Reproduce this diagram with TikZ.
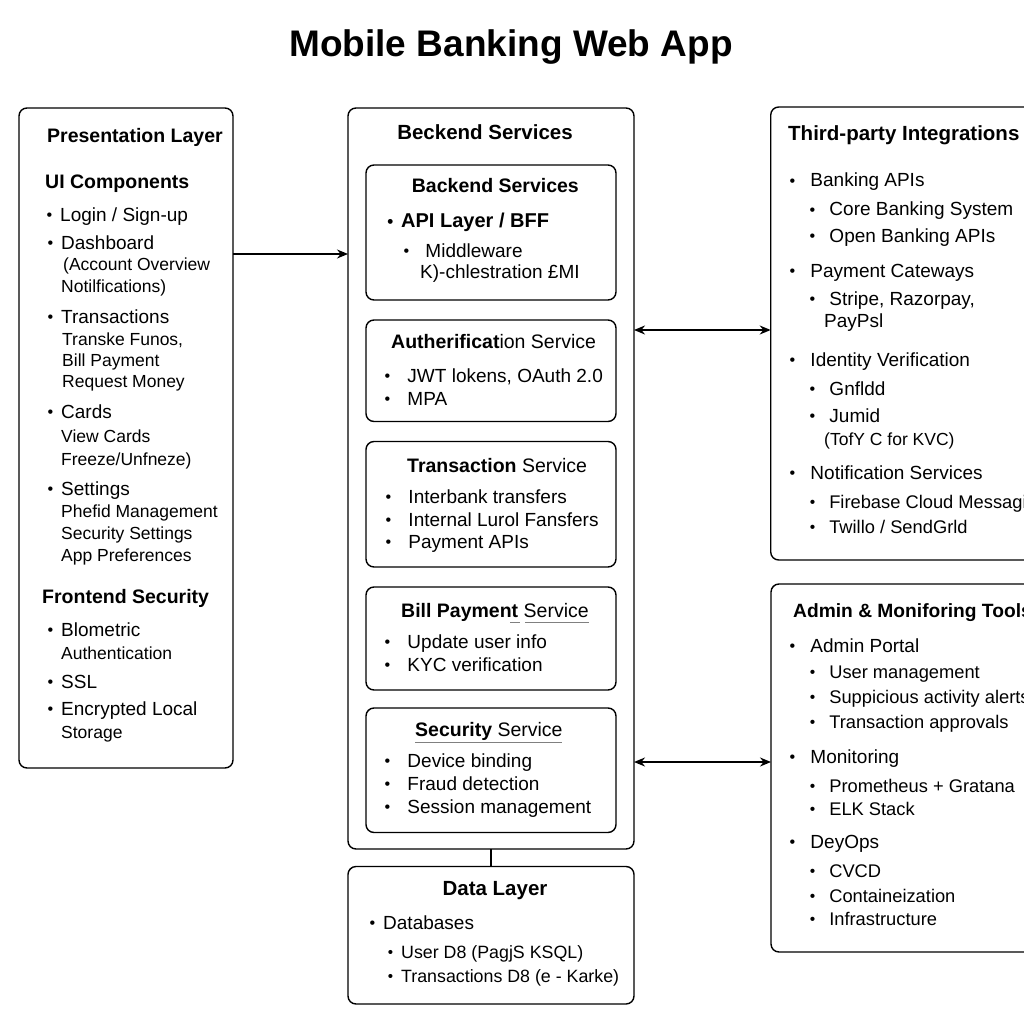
\documentclass[tikz,border=0pt]{standalone}
\usepackage{fontspec}
\usepackage{graphicx}
\setmainfont{Liberation Sans}
\usetikzlibrary{arrows.meta}

\newcommand\bul[1][8pt]{\llap{\raisebox{1pt}{\scalebox{0.85}{\textbullet}}\hspace{#1}}}

\tikzset{
  box/.style={draw, line width=1.4pt, rounded corners=8pt, inner sep=0pt, outer sep=0pt},
  head/.style={anchor=base west, inner sep=0pt, font=\fontsize{19.5}{23}\selectfont\bfseries},
  bighead/.style={inner sep=0pt, font=\fontsize{20.5}{24}\selectfont\bfseries},
  mixhead/.style={anchor=base west, inner sep=0pt, font=\fontsize{19.5}{23}\selectfont},
  txt/.style={anchor=base west, inner sep=0pt, font=\fontsize{19}{23}\selectfont},
  sub/.style={anchor=base west, inner sep=0pt, font=\fontsize{17.5}{21}\selectfont},
  adm/.style={anchor=base west, inner sep=0pt, font=\fontsize{18.3}{22}\selectfont},
  link/.style={line width=1.6pt, -{Stealth[length=11pt,width=9pt]}},
  link2/.style={line width=1.6pt, {Stealth[length=11pt,width=9pt]}-{Stealth[length=11pt,width=9pt]}},
  uline/.style={gray, line width=0.8pt},
}

\begin{document}
\begin{tikzpicture}[x=1pt,y=-1pt]
\useasboundingbox (0,0) rectangle (1024,1024);
\fill[white] (0,0) rectangle (1024,1024);

\node[anchor=base, inner sep=0pt, font=\fontsize{37}{44}\selectfont\bfseries] (title) at (511,57) {Mobile Banking Web App};

% boxes
\node[box, minimum width=214pt, minimum height=660pt] (pres) at (126,438) {};
\node[box, minimum width=286pt, minimum height=741pt] (back) at (491,478.5) {};
\node[box, minimum width=250pt, minimum height=135pt] (bff) at (491,232.5) {};
\node[box, minimum width=250pt, minimum height=101.5pt] (auth) at (491,370.75) {};
\node[box, minimum width=250pt, minimum height=125.5pt] (trans) at (491,504.25) {};
\node[box, minimum width=250pt, minimum height=103pt] (bill) at (491,638.5) {};
\node[box, minimum width=250pt, minimum height=124.5pt] (sec) at (491,770.25) {};
\node[box, minimum width=286pt, minimum height=137.5pt] (data) at (491,935.25) {};
\node[box, minimum width=270pt, minimum height=453pt] (third) at (905.7,333.5) {};
\node[box, minimum width=270pt, minimum height=368pt] (adm) at (906,768) {};

% presentation layer
\node[head] (pl-h) at (47,143) {Presentation Layer};
\node[head] (pl-ui) at (45,189) {UI Components};
\node[txt] (pl-1) at (60,222) {\bul Login / Sign-up};
\node[txt] (pl-2) at (61,249) {\bul Dashboard};
\node[sub] (pl-2a) at (63,270) {(Account Overview};
\node[sub] (pl-2b) at (61,292) {Notilfications)};
\node[txt] (pl-3) at (61,323) {\bul Transactions};
\node[sub] (pl-3a) at (62,345) {Transke Funos,};
\node[sub] (pl-3b) at (62,366) {Bill Payment};
\node[sub] (pl-3c) at (62,387) {Request Money};
\node[txt] (pl-4) at (61,418) {\bul Cards};
\node[sub] (pl-4a) at (61,442) {View Cards};
\node[sub] (pl-4b) at (61,465) {Freeze/Unfneze)};
\node[txt] (pl-5) at (61,495) {\bul Settings};
\node[sub] (pl-5a) at (61,517) {Phefid Management};
\node[sub] (pl-5b) at (61,539) {Security Settings};
\node[sub] (pl-5c) at (61,561) {App Preferences};
\node[head] (pl-fs) at (42,603) {Frontend Security};
\node[txt] (pl-6) at (61,636) {\bul Blometric};
\node[sub] (pl-6a) at (61,659) {Authentication};
\node[txt] (pl-7) at (61,688) {\bul SSL};
\node[txt] (pl-8) at (61,715) {\bul Encrypted Local};
\node[sub] (pl-8a) at (61,738) {Storage};

% backend services
\node[bighead, anchor=base] (bs-h) at (485,140) {Beckend Services};
\node[head] (bff-h) at (411.7,193) {Backend Services};
\node[txt, font=\fontsize{20}{24}\selectfont\bfseries] (bff-1) at (401,228) {\bul API Layer / BFF};
\node[txt] (bff-2) at (420,257) {\bul[11pt] Middleware};
\node[txt] (bff-3) at (420,278) {K)-chlestration £MI};
\node[mixhead] (auth-h) at (391,348) {\textbf{Autherificat}ion Service};
\node[txt] (auth-1) at (402,382) {\bul[12pt] JWT lokens, OAuth 2.0};
\node[txt] (auth-2) at (402,405) {\bul[12pt] MPA};
\node[mixhead] (trans-h) at (407,472) {\textbf{Transaction} Service};
\node[txt] (trans-1) at (403,503) {\bul[12pt] Interbank transfers};
\node[txt] (trans-2) at (403,526) {\bul[12pt] Internal Lurol Fansfers};
\node[txt] (trans-3) at (403,548) {\bul[12pt] Payment APIs};
\node[mixhead] (bill-h) at (401,617) {\textbf{Bill Payment} Service};
\draw[uline] (510,622) -- (520,622);
\draw[uline] (525,622) -- (589,622);
\node[txt] (bill-1) at (402,648) {\bul[12pt] Update user info};
\node[txt] (bill-2) at (402,671) {\bul[12pt] KYC verification};
\node[mixhead] (sec-h) at (415,736) {\textbf{Security} Service};
\draw[uline] (415,742) -- (562,742);
\node[txt] (sec-1) at (402,767) {\bul[12pt] Device binding};
\node[txt] (sec-2) at (402,790) {\bul[12pt] Fraud detection};
\node[txt] (sec-3) at (402,813) {\bul[12pt] Session management};

% data layer
\node[bighead, anchor=base] (dl-h) at (495,895) {Data Layer};
\node[txt] (dl-1) at (383,929) {\bul Databases};
\node[txt, font=\fontsize{17.8}{21}\selectfont] (dl-2) at (401,958) {\bul User D8 (PagjS KSQL)};
\node[txt, font=\fontsize{17.8}{21}\selectfont] (dl-3) at (401,982) {\bul Transactions D8 (e - Karke)};

% third-party integrations
\node[bighead, anchor=base west] (tp-h) at (788,141) {Third-party Integrations};
\node[txt] (tp-1) at (805,187) {\bul[10pt] Banking APIs};
\node[txt] (tp-1a) at (824,216) {\bul[9pt] Core Banking System};
\node[txt] (tp-1b) at (824,242) {\bul[9pt] Open Banking APIs};
\node[txt] (tp-2) at (805,277) {\bul[10pt] Payment Cateways};
\node[txt] (tp-2a) at (824,305) {\bul[9pt] Stripe, Razorpay,};
\node[txt] (tp-2b) at (824,327) {PayPsl};
\node[txt] (tp-3) at (805,366) {\bul[10pt] Identity Verification};
\node[txt] (tp-3a) at (824,395) {\bul[9pt] Gnfldd};
\node[txt] (tp-3b) at (824,422) {\bul[9pt] Jumid};
\node[sub] (tp-3c) at (824,445) {(TofY C for KVC)};
\node[txt] (tp-4) at (805,479) {\bul[10pt] Notification Services};
\node[adm] (tp-4a) at (824,508) {\bul[9pt] Firebase Cloud Messagi};
\node[adm] (tp-4b) at (824,533) {\bul[9pt] Twillo / SendGrld};

% admin & monitoring
\node[bighead, anchor=base west, font=\fontsize{19.2}{23}\selectfont\bfseries] (am-h) at (793,617) {Admin \& Moniforing Tools};
\node[txt] (am-1) at (805,652) {\bul[10pt] Admin Portal};
\node[adm] (am-1a) at (824,678) {\bul[9pt] User management};
\node[adm] (am-1b) at (824,703) {\bul[9pt] Suppicious activity alerts};
\node[adm] (am-1c) at (824,728) {\bul[9pt] Transaction approvals};
\node[txt] (am-2) at (805,763) {\bul[10pt] Monitoring};
\node[adm] (am-2a) at (824,792) {\bul[9pt] Prometheus + Gratana};
\node[adm] (am-2b) at (824,815) {\bul[9pt] ELK Stack};
\node[txt] (am-3) at (805,848) {\bul[10pt] DeyOps};
\node[adm] (am-3a) at (824,877) {\bul[9pt] CVCD};
\node[adm] (am-3b) at (824,902) {\bul[9pt] Containeization};
\node[adm] (am-3c) at (824,925) {\bul[9pt] Infrastructure};

% connectors
\coordinate (in-ui) at (0,254);
\coordinate (in-tp) at (0,330);
\coordinate (in-am) at (0,762);
\draw[link] (pres.east |- in-ui) -- (back.west |- in-ui);
\draw[link2] (back.east |- in-tp) -- (third.west |- in-tp);
\draw[link2] (back.east |- in-am) -- (adm.west |- in-am);
\draw[line width=1.4pt] (back.south) -- (data.north);

\end{tikzpicture}
\end{document}
